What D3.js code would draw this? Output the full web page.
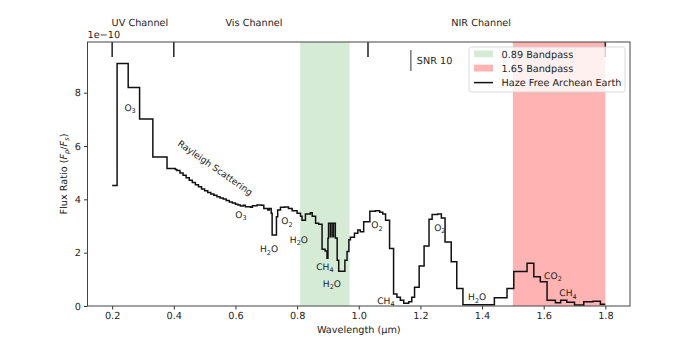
<!DOCTYPE html>
<html><head><meta charset="utf-8">
<script src="https://cdn.jsdelivr.net/npm/d3@7"></script>
<style>body{margin:0;background:#fff}svg{display:block;font-family:"DejaVu Sans",sans-serif;text-rendering:geometricPrecision}</style>
</head><body><svg id="c" width="700" height="350"></svg>
<script>
// Spectrum (step-after: left edge wavelength in µm, flux ratio in units of 1e-10)
const wavelength = [0.200,0.216,0.252,0.289,0.332,0.378,0.405,0.410,0.420,0.430,0.440,0.450,0.460,0.470,0.480,0.490,0.500,0.510,0.520,0.530,0.540,0.550,0.560,0.570,0.580,0.590,0.600,0.608,0.616,0.625,0.632,0.649,0.655,0.670,0.685,0.692,0.705,0.710,0.716,0.719,0.733,0.737,0.746,0.760,0.772,0.784,0.800,0.811,0.816,0.827,0.843,0.849,0.860,0.870,0.881,0.891,0.897,0.900,0.902,0.908,0.910,0.916,0.918,0.924,0.930,0.935,0.955,0.962,0.968,0.973,0.986,0.997,1.005,1.016,1.036,1.054,1.068,1.078,1.087,1.100,1.113,1.124,1.135,1.146,1.162,1.172,1.181,1.196,1.212,1.228,1.238,1.256,1.268,1.280,1.300,1.318,1.338,1.440,1.481,1.503,1.546,1.568,1.589,1.611,1.638,1.655,1.675,1.700,1.730,1.760,1.784,1.800];
const flux = [4.52,9.09,8.19,7.01,5.59,5.16,5.12,5.08,4.99,4.90,4.81,4.72,4.63,4.55,4.47,4.39,4.32,4.26,4.20,4.15,4.10,4.05,4.01,3.96,3.90,3.86,3.82,3.79,3.75,3.78,3.72,3.70,3.76,3.79,3.78,3.66,3.60,3.66,3.48,2.66,3.35,3.60,3.70,3.71,3.66,3.57,3.48,3.37,3.22,3.45,3.50,3.37,3.10,3.07,2.13,2.06,1.79,2.54,3.10,2.60,3.10,2.60,3.10,2.55,1.72,1.30,1.72,2.04,2.48,2.58,2.73,2.85,2.78,3.16,3.55,3.57,3.52,3.45,3.22,2.16,0.45,0.33,0.22,0.10,0.16,0.33,0.70,1.50,2.25,3.25,3.43,3.45,3.30,2.40,1.66,0.66,0.05,0.31,0.66,1.29,1.60,1.10,0.91,0.22,0.12,0.22,0.14,0.04,0.16,0.18,0.07,0.07];

const xTicks = [0.2,0.4,0.6,0.8,1.0,1.2,1.4,1.6,1.8];
const yTicks = [0,2,4,6,8];
const channelEdges = [0.2,0.4,1.03,1.8];
const channelNames = ["UV Channel","Vis Channel","NIR Channel"];
const channelLabelX = [0.290,0.660,1.397];
const bandNames = ["0.89 Bandpass","1.65 Bandpass"];
const bandLo = [0.81,1.50];
const bandHi = [0.97,1.80];
const bandColors = ["#d6ebd6","#ffb3b3"];
const seriesName = "Haze Free Archean Earth";
// annotations: main text, subscript, trailing text, x (µm), y (flux)
const annText = ["O","O","H","O","H","CH","H","O","CH","O","H","CO","CH"];
const annSub  = ["3","3","2","2","2","4","2","2","4","2","2","2","4"];
const annTail = ["","","O","","O","","O","","","","O","",""];
const annX = [0.258,0.618,0.709,0.767,0.806,0.890,0.913,1.059,1.088,1.263,1.384,1.630,1.679];
const annY = [7.46,3.45,2.14,3.19,2.51,1.50,0.86,3.04,0.225,2.96,0.34,1.16,0.49];
const snrX = 1.169, snrY0 = 8.81, snrY1 = 9.6;

const L=87.5,R=630,T=42,B=306;
const x = d3.scaleLinear().domain([0.12,1.88]).range([L,R]);
const y = d3.scaleLinear().domain([0,9.9]).range([B,T]);
const svg = d3.select("#c");
const fs = 9.7, ink = "#222";

// bands
svg.selectAll("rect.band").data(bandLo).enter().append("rect")
  .attr("x",d=>x(d)).attr("width",(d,i)=>x(bandHi[i])-x(d))
  .attr("y",T).attr("height",B-T).attr("fill",(d,i)=>bandColors[i]);

// channel ticks
svg.selectAll("line.ch").data(channelEdges).enter().append("line")
  .attr("x1",d=>x(d)).attr("x2",d=>x(d)).attr("y1",T).attr("y2",T+15)
  .attr("stroke","#222").attr("stroke-width",1.5);
svg.selectAll("text.ch").data(channelNames).enter().append("text")
  .attr("x",(d,i)=>x(channelLabelX[i])).attr("y",26).attr("text-anchor","middle")
  .attr("font-size",fs).attr("fill",ink).text(d=>d);

// spectrum
const pts = wavelength.map((w,i)=>[w,flux[i]]);
svg.append("path").datum(pts)
  .attr("d",d3.line().x(d=>x(d[0])).y(d=>y(d[1])).curve(d3.curveStepAfter))
  .attr("fill","none").attr("stroke","#111").attr("stroke-width",1.5);

// annotations
annText.forEach((t,i)=>{
  const tx = svg.append("text").attr("x",x(annX[i])).attr("y",y(annY[i])+3.5)
    .attr("text-anchor","middle").attr("font-size",9.1).attr("fill",ink);
  tx.append("tspan").text(t);
  tx.append("tspan").attr("font-size",6.5).attr("dy",2.3).text(annSub[i]);
  if(annTail[i]) tx.append("tspan").attr("dy",-2.3).text(annTail[i]);
});
// Rayleigh label
svg.append("text").attr("transform",`translate(${x(0.534)},${y(5.175)}) rotate(35)`)
  .attr("text-anchor","middle").attr("dy",3).attr("font-size",9.1).attr("fill",ink).text("Rayleigh Scattering");

// SNR bar
svg.append("line").attr("x1",x(snrX)).attr("x2",x(snrX)).attr("y1",y(snrY0)).attr("y2",y(snrY1))
  .attr("stroke","#777").attr("stroke-width",1.5);
svg.append("text").attr("x",x(snrX)+6).attr("y",y(9.2)+3.5).attr("font-size",fs).attr("fill",ink).text("SNR 10");

// axes
const xa = svg.append("g").attr("transform",`translate(0,${B})`)
  .call(d3.axisBottom(x).tickValues(xTicks).tickSize(3.5).tickPadding(3).tickFormat(d3.format(".1f")));
const ya = svg.append("g").attr("transform",`translate(${L},0)`)
  .call(d3.axisLeft(y).tickValues(yTicks).tickSize(3.5).tickPadding(3).tickFormat(d3.format("d")));
[xa,ya].forEach(a=>{a.select(".domain").remove();
  a.selectAll("text").attr("font-size",fs).attr("fill",ink).attr("font-family","DejaVu Sans");
  a.selectAll("line").attr("stroke","#333");});
svg.append("rect").attr("x",L).attr("y",T).attr("width",R-L).attr("height",B-T)
  .attr("fill","none").attr("stroke","#444").attr("stroke-width",1);

svg.append("text").attr("x",L).attr("y",38).attr("font-size",fs).attr("fill",ink).text("1e\u221210");
svg.append("text").attr("x",(L+R)/2).attr("y",333).attr("text-anchor","middle").attr("font-size",fs).attr("fill",ink).text("Wavelength (\u00b5m)");
const yl = svg.append("text").attr("transform",`translate(67,${(T+B)/2}) rotate(-90)`)
  .attr("text-anchor","middle").attr("font-size",fs).attr("fill",ink);
yl.append("tspan").text("Flux Ratio (");
yl.append("tspan").attr("font-style","italic").text("F");
yl.append("tspan").attr("font-size",6.7).attr("dy",2).attr("font-style","italic").text("p");
yl.append("tspan").attr("dy",-2).text("/");
yl.append("tspan").attr("font-style","italic").text("F");
yl.append("tspan").attr("font-size",6.7).attr("dy",2).attr("font-style","italic").text("s");
yl.append("tspan").attr("dy",-2).text(")");

// legend
const lg = svg.append("g");
lg.append("rect").attr("x",469).attr("y",47).attr("width",156).attr("height",45).attr("rx",2.5)
  .attr("fill","#fff").attr("fill-opacity",0.8).attr("stroke","#d0d0d0").attr("stroke-width",0.8);
bandNames.forEach((n,i)=>{
  lg.append("rect").attr("x",474).attr("y",50.5+i*14.2).attr("width",19).attr("height",6.8).attr("fill",bandColors[i]);
  lg.append("text").attr("x",501.5).attr("y",57.6+i*14.2).attr("font-size",fs).attr("fill",ink).text(n);
});
lg.append("line").attr("x1",474).attr("x2",493).attr("y1",82.6).attr("y2",82.6).attr("stroke","#111").attr("stroke-width",1.5);
lg.append("text").attr("x",501.5).attr("y",86.1).attr("font-size",fs).attr("fill",ink).text(seriesName);
</script></body></html>
